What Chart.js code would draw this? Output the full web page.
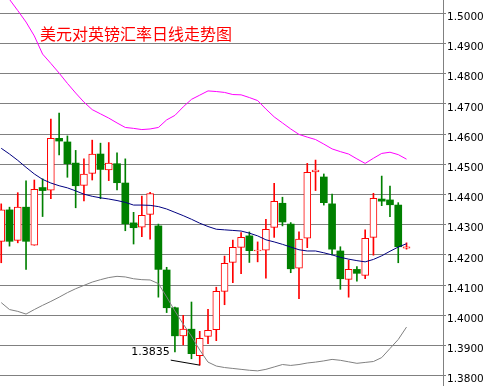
<!DOCTYPE html>
<html><head><meta charset="utf-8">
<script src="https://cdn.jsdelivr.net/npm/chart.js@4/dist/chart.umd.min.js"></script>
<style>html,body{margin:0;padding:0;background:#fff;} canvas{display:block;}</style>
</head><body>
<canvas id="c" width="488" height="386"></canvas>
<script>
const titleText = '美元对英镑汇率日线走势图';

// Daily candles (USD/GBP), oldest to newest
const openP  = [1.4245,1.4349,1.4248,1.4358,1.4232,1.4423,1.4414,1.4586,1.4574,1.4504,
                1.4430,1.4470,1.4534,1.4481,1.4502,1.4438,1.4306,1.4292,1.4334,1.4296,
                1.4150,1.4025,1.3932,1.3954,1.3866,1.3930,1.3952,1.4079,1.4175,1.4225,
                1.4263,1.4213,1.4216,1.4291,1.4371,1.4302,1.4156,1.4255,1.4475,1.4458,
                1.4369,1.4213,1.4119,1.4152,1.4132,1.4258,1.4385,1.4382,1.4365,1.4222];
const highP  = [1.4369,1.4358,1.4406,1.4445,1.4448,1.4452,1.4650,1.4670,1.4594,1.4546,
                1.4518,1.4580,1.4570,1.4572,1.4538,1.4518,1.4341,1.4395,1.4407,1.4302,
                1.4159,1.4027,1.4000,1.4044,1.3947,1.4020,1.4093,1.4196,1.4249,1.4274,
                1.4276,1.4243,1.4318,1.4437,1.4391,1.4307,1.4276,1.4503,1.4514,1.4468,
                1.4401,1.4227,1.4183,1.4161,1.4283,1.4404,1.4461,1.4428,1.4373,1.4240];
const lowP   = [1.4174,1.4229,1.4240,1.4152,1.4232,1.4327,1.4386,1.4531,1.4457,1.4356,
                1.4379,1.4448,1.4386,1.4446,1.4415,1.4280,1.4236,1.4260,1.4252,1.4060,
                1.4009,1.3879,1.3902,1.3856,1.3835,1.3906,1.3916,1.4035,1.4108,1.4138,
                1.4175,1.4177,1.4123,1.4258,1.4296,1.4141,1.4055,1.4224,1.4413,1.4365,
                1.4200,1.4086,1.4060,1.4113,1.4121,1.4199,1.4363,1.4327,1.4174,1.4219];
const closeP = [1.4349,1.4245,1.4358,1.4245,1.4417,1.4413,1.4586,1.4577,1.4502,1.4429,
                1.4468,1.4534,1.4483,1.4504,1.4439,1.4303,1.4290,1.4331,1.4403,1.4152,
                1.4025,1.3932,1.3954,1.3873,1.3924,1.3950,1.4079,1.4172,1.4225,1.4258,
                1.4214,1.4216,1.4285,1.4377,1.4309,1.4154,1.4252,1.4473,1.4481,1.4373,
                1.4219,1.4121,1.4152,1.4139,1.4255,1.4387,1.4378,1.4366,1.4227,1.4227];

// Bollinger bands
const bandUpper  = [1.5084,1.5046,1.5009,1.4971,1.4925,1.4865,1.4834,1.4802,1.4768,1.4736,
                    1.4706,1.4681,1.4667,1.4653,1.4637,1.4622,1.4619,1.4615,1.4617,1.4622,
                    1.4647,1.4662,1.4690,1.4715,1.4729,1.4743,1.4741,1.4738,1.4731,1.4730,
                    1.4721,1.4711,1.4683,1.4657,1.4637,1.4617,1.4599,1.4590,1.4582,1.4567,
                    1.4551,1.4542,1.4534,1.4518,1.4503,1.4520,1.4536,1.4540,1.4532,1.4517];
const bandMiddle = [1.4553,1.4534,1.4513,1.4490,1.4468,1.4450,1.4438,1.4429,1.4422,1.4412,
                    1.4401,1.4394,1.4389,1.4385,1.4380,1.4374,1.4365,1.4365,1.4364,1.4360,
                    1.4352,1.4341,1.4330,1.4318,1.4305,1.4294,1.4285,1.4283,1.4281,1.4279,
                    1.4272,1.4263,1.4250,1.4243,1.4235,1.4226,1.4217,1.4213,1.4213,1.4207,
                    1.4200,1.4192,1.4186,1.4181,1.4177,1.4185,1.4197,1.4212,1.4226,1.4237];
const bandLower  = [1.4042,1.4019,1.4013,1.4004,1.4019,1.4033,1.4046,1.4060,1.4075,1.4088,
                    1.4099,1.4110,1.4118,1.4125,1.4129,1.4127,1.4121,1.4118,1.4117,1.4105,
                    1.4061,1.4014,1.3971,1.3931,1.3885,1.3845,1.3832,1.3827,1.3824,1.3821,
                    1.3818,1.3816,1.3821,1.3829,1.3837,1.3834,1.3837,1.3842,1.3845,1.3849,
                    1.3854,1.3851,1.3846,1.3841,1.3844,1.3847,1.3860,1.3890,1.3920,1.3961];

const yTickValues = [1.38,1.39,1.40,1.41,1.42,1.43,1.44,1.45,1.46,1.47,1.48,1.49,1.50];

const UP = '#FF0000', DOWN = '#008000';
const isUp = i => closeP[i] >= openP[i];

const wickData = highP.map((h, i) => ({x: i, y: [lowP[i], h]}));
const bodyData = openP.map((o, i) => ({x: i, y: [o, closeP[i]]}));
const lineData = arr => arr.map((v, i) => ({x: i, y: v}));

const overlay = {
  id: 'overlay',
  afterDraw(chart) {
    const ctx = chart.ctx;
    const xs = chart.scales.x, ys = chart.scales.y;
    ctx.save();
    ctx.font = '16px "Noto Sans CJK SC"';
    ctx.fillStyle = '#FF0000';
    ctx.textAlign = 'left';
    ctx.textBaseline = 'middle';
    ctx.fillText(titleText, 40, 34);
    let mi = 0;
    lowP.forEach((v, i) => { if (v < lowP[mi]) mi = i; });
    const px = xs.getPixelForValue(mi), py = ys.getPixelForValue(lowP[mi]);
    ctx.strokeStyle = '#000';
    ctx.lineWidth = 1;
    ctx.beginPath();
    ctx.moveTo(px - 29, py - 5);
    ctx.lineTo(px, py);
    ctx.stroke();
    ctx.font = '11px "DejaVu Sans"';
    ctx.fillStyle = '#000';
    ctx.textAlign = 'right';
    ctx.fillText(lowP[mi].toFixed(4), px - 30, py - 13);
    ctx.restore();
  }
};

new Chart(document.getElementById('c'), {
  type: 'bar',
  data: {
    datasets: [
      {type: 'line', data: lineData(bandUpper), borderColor: '#FF00FF', borderWidth: 1, pointRadius: 0, tension: 0, fill: false, order: 0},
      {type: 'line', data: lineData(bandMiddle), borderColor: '#000080', borderWidth: 1, pointRadius: 0, tension: 0, fill: false, order: 0},
      {type: 'line', data: lineData(bandLower), borderColor: '#808080', borderWidth: 1, pointRadius: 0, tension: 0, fill: false, order: 0},
      {data: bodyData, barThickness: 7, grouped: false, order: 1, borderSkipped: false,
       backgroundColor: c => isUp(c.dataIndex) ? '#FFFFFF' : DOWN,
       borderColor: c => isUp(c.dataIndex) ? UP : DOWN,
       borderWidth: c => isUp(c.dataIndex) ? 1 : 0},
      {data: wickData, barThickness: 1, grouped: false, order: 2, borderWidth: 0,
       backgroundColor: c => isUp(c.dataIndex) ? UP : DOWN}
    ]
  },
  options: {
    responsive: false,
    animation: false,
    events: [],
    layout: {padding: 0},
    plugins: {legend: {display: false}, tooltip: {enabled: false}, title: {display: false}},
    scales: {
      x: {type: 'linear', display: false, offset: false, min: -0.1487, max: 53.41,
          grid: {display: false}},
      y: {type: 'linear', position: 'right', min: 1.376589, max: 1.504404,
          afterBuildTicks: s => { s.ticks = yTickValues.map(v => ({value: v})); },
          afterFit: s => { s.width = 45; s.paddingTop = 0; s.paddingBottom = 0; },
          border: {display: true, color: '#808080', width: 1},
          grid: {color: '#808080', lineWidth: 1, borderDash: [1, 3], drawTicks: true, tickLength: 3,
                 tickColor: '#808080', tickBorderDash: []},
          ticks: {color: '#000', padding: 1, labelOffset: 4,
                  font: {family: 'DejaVu Sans', size: 10.5},
                  callback: v => Number(v).toFixed(4)}}
    }
  },
  plugins: [overlay]
});
</script>
</body></html>
